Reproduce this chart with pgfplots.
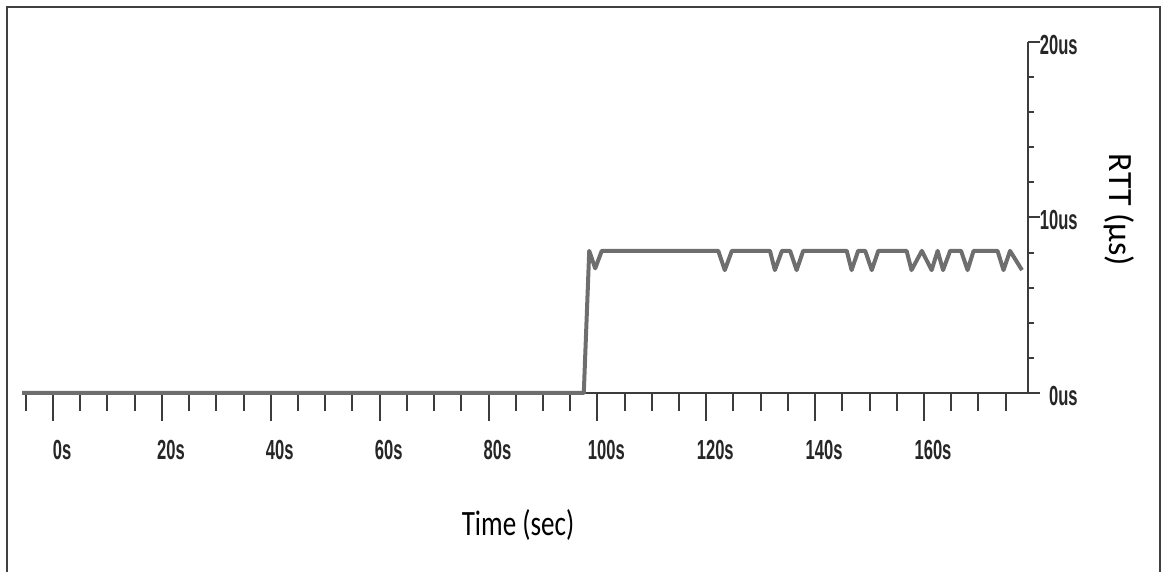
\documentclass[border=0pt]{standalone}
\usepackage{fontspec}
\setmainfont{Carlito}
\newfontfamily\tickfont[FakeStretch=0.6]{Liberation Sans}
\usepackage{pgfplots}
\pgfplotsset{compat=1.18}
\definecolor{axisgray}{HTML}{3C3C3C}
\definecolor{linegray}{HTML}{6E6E6E}

\begin{document}
\begin{tikzpicture}
\path[use as bounding box] (0,0) rectangle (582pt,286pt);
\draw[line width=1pt, black!75] (3.5pt,-1pt) -- (3.5pt,282.5pt) -- (580pt,282.5pt) -- (580pt,-1pt);

% x axis with its ticks
\begin{axis}[
  at={(11pt,89.5pt)}, anchor=south west,
  scale only axis, width=503pt, height=175.5pt,
  xmin=-5.7, xmax=179.1, ymin=0, ymax=20,
  axis x line=bottom, axis y line=none,
  axis line style={-, axisgray, line width=1.4pt},
  tick align=outside,
  major tick length=14pt, minor tick length=9pt,
  xtick={0,20,...,160},
  xticklabels={0s,20s,40s,60s,80s,100s,120s,140s,160s},
  minor xtick={-5,0,...,175},
  ytick=\empty,
  tick style={axisgray, line width=1pt},
  xticklabel style={font=\tickfont\bfseries\fontsize{13.8}{15}\selectfont, text=black!85,
    inner sep=0pt, anchor=north, xshift=4.5pt, yshift=-9.5pt},
]
\end{axis}

% y axis on the right, and the RTT trace
\begin{axis}[
  at={(11pt,89.5pt)}, anchor=south west,
  scale only axis, width=503pt, height=175.5pt,
  xmin=-5.7, xmax=179.1, ymin=0, ymax=20,
  axis x line=none, axis y line=right,
  axis line style={-, axisgray, line width=1.2pt},
  tick align=outside,
  major tick length=6pt, minor tick length=3pt,
  xtick=\empty,
  ytick={0,10,20},
  yticklabels={0us,10us,20us},
  minor ytick={2,4,...,18},
  tick style={axisgray, line width=1pt},
  yticklabel style={font=\tickfont\bfseries\fontsize{13.8}{15}\selectfont, text=black!85,
    inner sep=0pt, anchor=east, xshift=19pt, yshift=-1.5pt},
  clip=false,
]
\addplot[linegray, line width=2pt, line join=round] coordinates {
  (-5.7,0) (97.5,0) (98.5,8.1) (99.6,7.1) (100.8,8.1)
  (122.2,8.1) (123.4,7.0) (124.7,8.1)
  (131.7,8.1) (132.6,7.0) (133.9,8.1) (135.4,8.1) (136.6,7.0) (137.8,8.1)
  (145.8,8.1) (146.7,7.0) (147.9,8.1) (149.2,8.1) (150.4,7.0) (151.6,8.1)
  (156.8,8.1) (157.7,7.0) (159.6,8.1) (161.4,7.0) (162.5,8.1) (163.5,7.0) (164.8,8.1)
  (166.8,8.1) (168.0,7.0) (169.1,8.1)
  (173.5,8.1) (174.6,7.0) (175.8,8.1) (178.0,7.0)
};
\end{axis}

\node[font=\addfontfeatures{FakeStretch=0.76}\fontsize{17.8}{20}\selectfont] at (259pt,23.5pt) {Time (sec)};
\node[font=\fontsize{17}{19}\selectfont, rotate=-90] at (559.5pt,181pt) {RTT (µs)};
\end{tikzpicture}
\end{document}
